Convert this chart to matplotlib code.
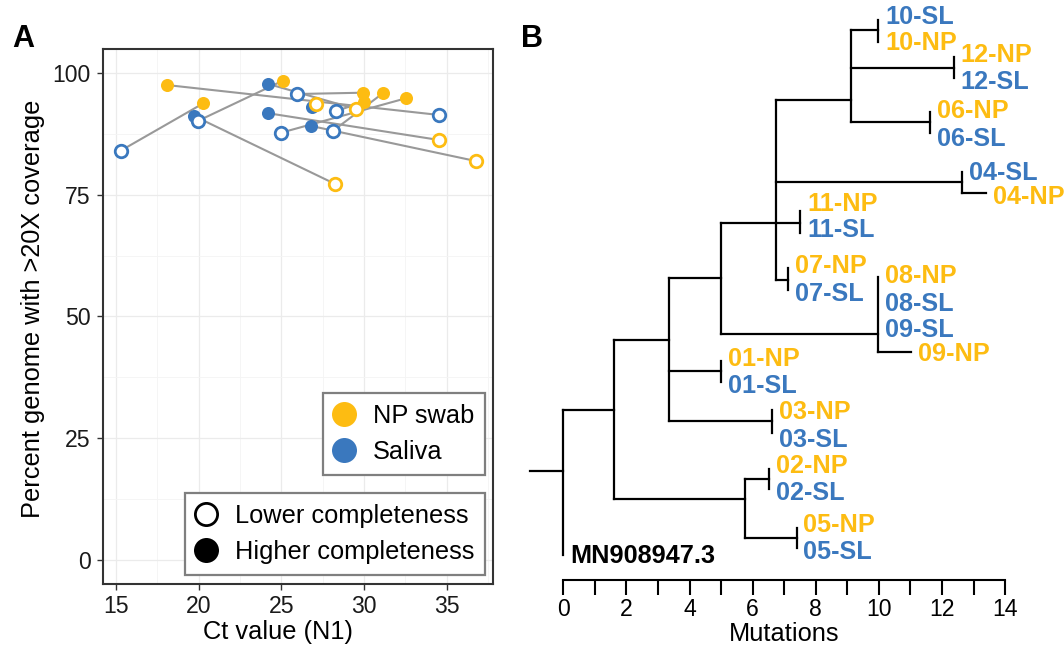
import matplotlib.pyplot as plt
from matplotlib.lines import Line2D

plt.rcParams['font.family'] = ['Liberation Sans', 'DejaVu Sans']

NP_COLOR = '#FDBC12'
SL_COLOR = '#3A78BE'
PAIR_LINE = '#999999'

# ---- panel A: one NP swab / saliva pair per patient ----
np_ct = [18.08, 20.29, 25.09, 27.10, 28.25, 29.92, 30.02, 29.50, 31.13, 32.52, 34.52, 36.73]
np_cov = [97.59, 93.83, 98.48, 93.69, 77.24, 96.01, 94.16, 92.66, 95.89, 94.86, 86.29, 81.97]
sl_ct = [34.53, 15.30, 19.99, 26.84, 19.73, 25.94, 28.31, 24.22, 28.11, 24.99, 24.22, 26.80]
sl_cov = [91.43, 84.09, 90.25, 93.13, 91.22, 95.74, 92.25, 97.80, 88.14, 87.79, 91.78, 89.17]
np_higher = [True, True, True, False, False, True, True, False, True, True, False, False]
sl_higher = [not h for h in np_higher]

# ---- panel B: tree (mutations from reference) ----
node_names = ['N0', 'A', 'B', 'C', 'D', 'E', 'F', 'G', 'P10', 'P12', 'P06',
              'P04', 'P11', 'P07', 'P01', 'P03', 'P02', 'P05']
node_parent = [None, 'N0', 'A', 'A', 'B', 'D', 'D', 'F', 'G', 'G', 'G',
               'F', 'F', 'F', 'B', 'B', 'C', 'C']
node_mut = [0, 1.62, 3.35, 5.75, 4.98, 9.98, 6.74, 9.11, 9.98, 12.37, 11.63,
            12.62, 7.50, 7.13, 5.00, 6.61, 6.52, 7.39]
node_row = [47.1, 41.0, 34.0, 49.9, 27.83, 33.4, 22.27, 10.0, 3.0, 6.83, 12.23,
            18.17, 22.27, 28.0, 37.1, 42.1, 47.93, 53.83]

tip_names = ['10-SL', '10-NP', '12-NP', '12-SL', '06-NP', '06-SL', '04-SL', '04-NP',
             '11-NP', '11-SL', '07-NP', '07-SL', '08-NP', '08-SL', '09-SL', '09-NP',
             '01-NP', '01-SL', '03-NP', '03-SL', '02-NP', '02-SL', '05-NP', '05-SL',
             'MN908947.3']
tip_parent = ['P10', 'P10', 'P12', 'P12', 'P06', 'P06', 'P04', 'P04',
              'P11', 'P11', 'P07', 'P07', 'E', 'E', 'E', 'E',
              'P01', 'P01', 'P03', 'P03', 'P02', 'P02', 'P05', 'P05', 'N0']
tip_len = [0, 0, 0, 0, 0, 0, 0, 0.77,
           0, 0, 0, 0, 0, 0, 0, 1.05,
           0, 0, 0, 0, 0, 0, 0, 0, 0]
tip_row = [2.0, 4.17, 5.73, 7.83, 11.17, 13.27, 17.17, 19.27,
           21.07, 23.27, 26.8, 29.0, 27.67, 30.17, 32.67, 35.17,
           36.07, 38.17, 41.0, 43.27, 46.93, 48.93, 52.83, 54.83, 55.5]
label_row = [1.67, 4.33, 5.53, 8.2, 11.13, 13.87, 17.33, 19.7,
             20.37, 23.03, 26.63, 29.37, 27.57, 30.37, 33.0, 35.37,
             35.87, 38.57, 41.2, 44.0, 46.6, 49.33, 52.5, 55.23, 55.57]
root_stub = 1.07

fig = plt.figure(figsize=(10.64, 6.47), dpi=100)

# ================= panel A =================
ax = fig.add_axes([0.0968, 0.0974, 0.3668, 0.8269])
all_ct = np_ct + sl_ct
span = max(all_ct) - min(all_ct)
ax.set_xlim(min(all_ct) - 0.05 * span, max(all_ct) + 0.05 * span)
ax.set_ylim(-5, 105)

for i in range(len(np_ct)):
    ax.plot([np_ct[i], sl_ct[i]], [np_cov[i], sl_cov[i]], color=PAIR_LINE,
            lw=1.5, zorder=2)

points = [(np_ct[i], np_cov[i], NP_COLOR, np_higher[i]) for i in range(len(np_ct))]
points += [(sl_ct[i], sl_cov[i], SL_COLOR, sl_higher[i]) for i in range(len(sl_ct))]
for x, y, c, filled in points:
    if filled:
        ax.plot(x, y, 'o', ms=9.4, mfc=c, mec=c, mew=0, zorder=3)
for x, y, c, filled in points:
    if not filled:
        ax.plot(x, y, 'o', ms=9.0, mfc='white', mec=c, mew=2.0, zorder=4)

ax.set_xticks([15, 20, 25, 30, 35])
ax.set_xticks([17.5, 22.5, 27.5, 32.5, 37.5], minor=True)
ax.set_yticks([0, 25, 50, 75, 100])
ax.set_yticks([12.5, 37.5, 62.5, 87.5], minor=True)
ax.grid(which='major', color='#EBEBEB', lw=0.9, zorder=0)
ax.grid(which='minor', color='#F4F4F4', lw=0.6, zorder=0)
ax.set_axisbelow(True)
ax.tick_params(which='major', length=4.3, width=1.0, color='#333333',
               labelsize=16.6, labelcolor='#1a1a1a')
ax.tick_params(axis='x', pad=3.5)
ax.tick_params(axis='y', pad=4.5)
ax.tick_params(which='minor', length=0)
for s in ax.spines.values():
    s.set_color('#333333')
    s.set_linewidth(1.5)

ax.set_xlabel('Ct value (N1)', fontsize=18.3)
ax.xaxis.set_label_coords(0.449, -0.067)
ax.set_ylabel('Percent genome with >20X coverage', fontsize=18.3)
ax.yaxis.set_label_coords(-0.148, 0.515)

h_color = [Line2D([], [], ls='none', marker='o', ms=18, mfc=NP_COLOR, mec=NP_COLOR, mew=0),
           Line2D([], [], ls='none', marker='o', ms=18, mfc=SL_COLOR, mec=SL_COLOR, mew=0)]
leg1 = ax.legend(h_color, ['NP swab', 'Saliva'], loc='lower right',
                 bbox_to_anchor=(0.9787, 0.2037), borderaxespad=0, fontsize=18.3,
                 fancybox=False, edgecolor='#7f7f7f', framealpha=1,
                 borderpad=0.42, handlelength=0.8, handletextpad=0.74,
                 labelspacing=0.49)
leg1.get_frame().set_linewidth(1.6)
ax.add_artist(leg1)

h_shape = [Line2D([], [], ls='none', marker='o', ms=16, mfc='white', mec='black', mew=2),
           Line2D([], [], ls='none', marker='o', ms=18, mfc='black', mec='black', mew=0)]
leg2 = ax.legend(h_shape, ['Lower completeness', 'Higher completeness'], loc='lower right',
                 bbox_to_anchor=(0.9787, 0.0168), borderaxespad=0, fontsize=18.3,
                 fancybox=False, edgecolor='#7f7f7f', framealpha=1,
                 borderpad=0.42, handlelength=0.8, handletextpad=0.74,
                 labelspacing=0.49)
leg2.get_frame().set_linewidth(1.6)

# ================= panel B =================
bx = fig.add_axes([0.4939, 0.10355, 0.4567, 0.89645])
bx.set_xlim(-1.2, 14.2)
bx.set_ylim(58.0, 0)

mut = dict(zip(node_names, node_mut))
row = dict(zip(node_names, node_row))
lw_tree = 1.6
kw = dict(color='black', lw=lw_tree, solid_capstyle='projecting', clip_on=False)

# root stub
bx.plot([-root_stub, 0], [row['N0'], row['N0']], **kw)

# horizontal branches of internal nodes
for name, parent in zip(node_names, node_parent):
    if parent is not None:
        bx.plot([mut[parent], mut[name]], [row[name], row[name]], **kw)

# tip branches with length
for p, L, r in zip(tip_parent, tip_len, tip_row):
    if L > 0:
        bx.plot([mut[p], mut[p] + L], [r, r], **kw)

# vertical connectors
for name in node_names:
    rows = [row[n] for n, p in zip(node_names, node_parent) if p == name]
    rows += [r for p, r in zip(tip_parent, tip_row) if p == name]
    if rows:
        bx.plot([mut[name], mut[name]], [min(rows), max(rows)], **kw)

# tip labels
for name, p, L, r in zip(tip_names, tip_parent, tip_len, label_row):
    if name.endswith('NP'):
        c = NP_COLOR
    elif name.endswith('SL'):
        c = SL_COLOR
    else:
        c = 'black'
    bx.text(mut[p] + L + 0.22, r, name, color=c, fontsize=18.2, fontweight='bold',
            ha='left', va='center', clip_on=False)

for side in ['left', 'right', 'top']:
    bx.spines[side].set_visible(False)
bx.spines['bottom'].set_bounds(0, 14)
bx.spines['bottom'].set_linewidth(1.5)
bx.set_yticks([])
bx.set_xticks(range(0, 15, 2))
bx.set_xticks(range(1, 14, 2), minor=True)
bx.tick_params(which='both', length=10.8, width=1.5, direction='out')
bx.tick_params(labelsize=16.6, pad=2)
bx.set_xlabel('Mutations', fontsize=18.3)
bx.xaxis.set_label_coords(0.532, -0.072)

fig.text(0.0119, 0.9278, 'A', fontsize=22, fontweight='bold', va='baseline')
fig.text(0.490, 0.9278, 'B', fontsize=22, fontweight='bold', va='baseline')

fig.savefig('out.png', dpi=100)
